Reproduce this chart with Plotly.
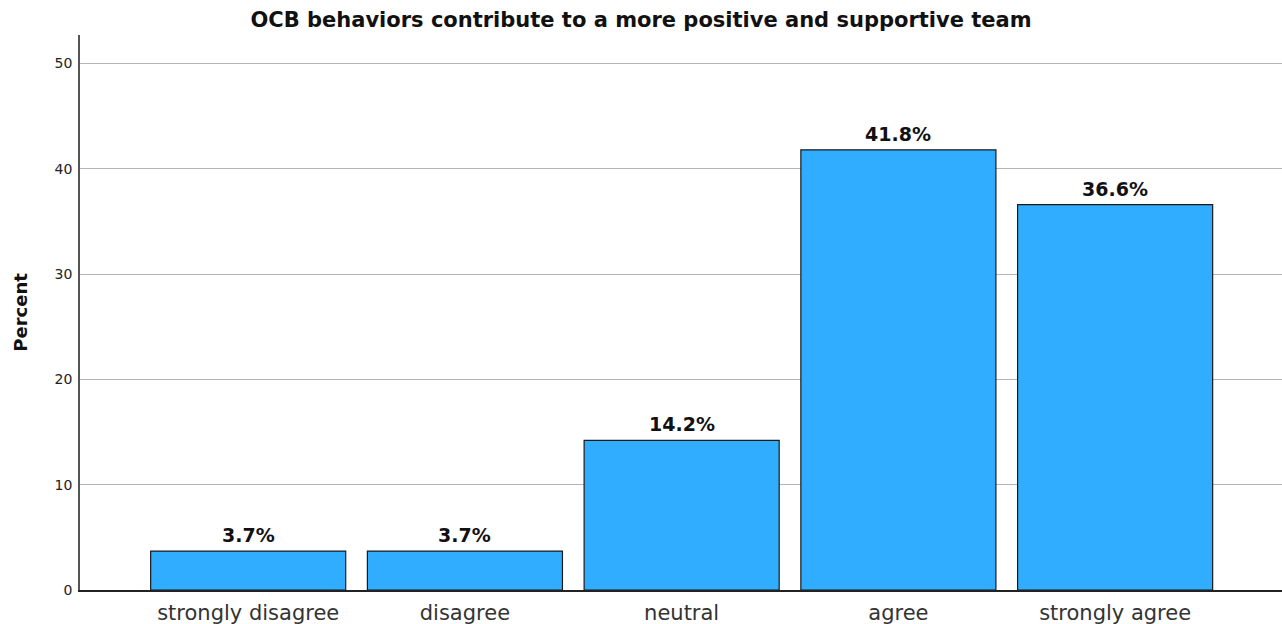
import plotly.graph_objects as go

categories = ["strongly disagree", "disagree", "neutral", "agree", "strongly agree"]
percents = [3.7, 3.7, 14.2, 41.8, 36.6]
y_ticks = [0, 10, 20, 30, 40, 50]

x = list(range(len(categories)))
FONT = "DejaVu Sans, Liberation Sans, Arial"

fig = go.Figure()
fig.add_trace(go.Bar(
    x=x, y=percents, width=0.9,
    marker=dict(color="#30ADFE", line=dict(color="#1a1a1a", width=1.2)),
    hoverinfo="skip",
))

for xi, v in zip(x, percents):
    fig.add_annotation(x=xi, y=v, text=f"<b>{v:.1f}%</b>", showarrow=False,
                       yanchor="bottom", yshift=3,
                       font=dict(family=FONT, size=19, color="#111"))

fig.update_layout(
    width=1282, height=624,
    margin=dict(l=80, r=0, t=35, b=34),
    paper_bgcolor="white", plot_bgcolor="white",
    showlegend=False,
    title=dict(text="<b>OCB behaviors contribute to a more positive and supportive team</b>",
               x=0.5, xanchor="center", y=0.968, yanchor="middle",
               font=dict(family=FONT, size=21, color="#111")),
    xaxis=dict(range=[-0.776, 4.77], tickmode="array", tickvals=x, ticktext=categories,
               showline=True, linecolor="#222", linewidth=1.5, showgrid=False, ticks="",
               ticklabelstandoff=3,
               tickfont=dict(family=FONT, size=21, color="#333"),
               zeroline=False),
    yaxis=dict(range=[0, 52.7], tickmode="array", tickvals=y_ticks,
               showline=True, linecolor="#555", linewidth=1.5,
               showgrid=True, gridcolor="#b5b5b5", gridwidth=1, ticks="",
               zeroline=False, ticklabelstandoff=3,
               tickfont=dict(family=FONT, size=14, color="#222"),
               title=dict(text="<b>Percent</b>", standoff=22,
                          font=dict(family=FONT, size=18, color="#111"))),
)

fig.write_html("out.html")
